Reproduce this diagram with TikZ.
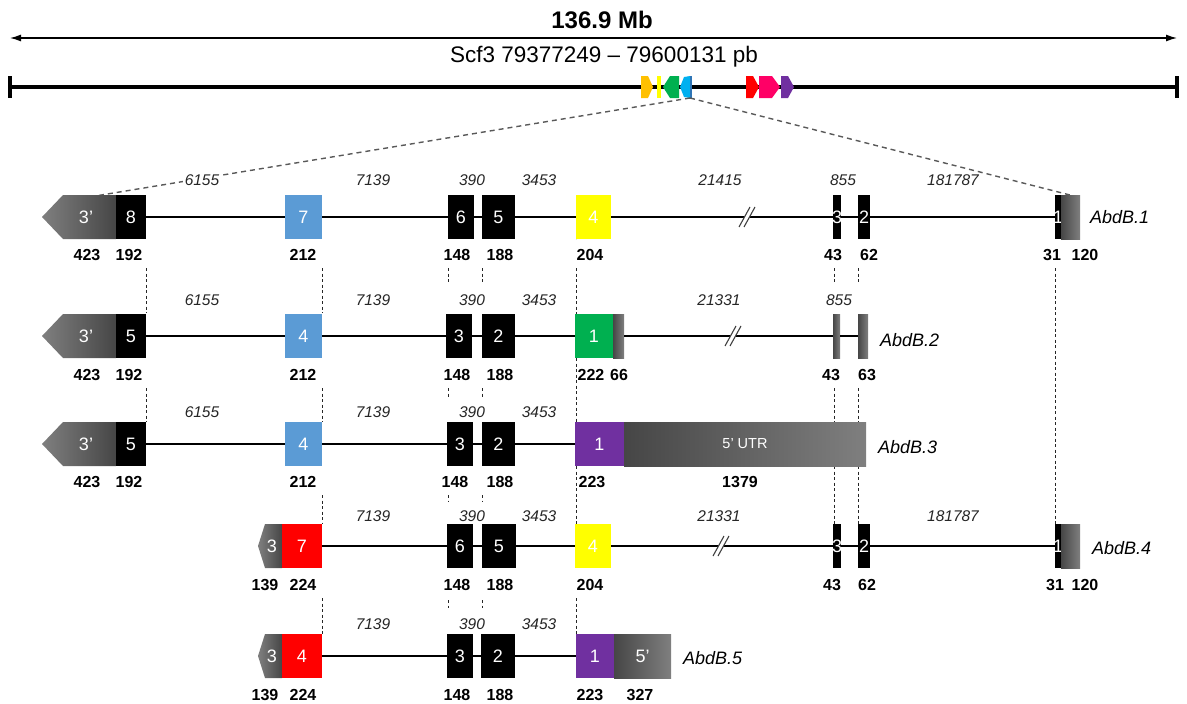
\documentclass[tikz,border=0pt]{standalone}
\usepackage{fontspec}
\setmainfont{Liberation Sans}
\usetikzlibrary{arrows.meta}
\definecolor{exblue}{HTML}{5B9BD5}
\definecolor{exyel}{HTML}{FFFF00}
\definecolor{exgreen}{HTML}{00B050}
\definecolor{expurple}{HTML}{7030A0}
\definecolor{exred}{HTML}{FF0000}
\definecolor{gorange}{HTML}{FFC000}
\definecolor{glblue}{HTML}{00B0F0}
\definecolor{gdblue}{HTML}{2E75B6}
\definecolor{gpink}{HTML}{FF0066}
\definecolor{gdark}{HTML}{464646}
\definecolor{glight}{HTML}{7F7F7F}
\newcounter{labc}
\newcommand\exon[6][]{\node[box,#1,minimum width={(#4-#3)*1pt}] (#2) at ({(#3+#4)/2},#5) {\makebox[0pt]{#6}};}
\newcommand\blab[3]{\stepcounter{labc}\node[blab] (bl\thelabc) at (#1,#2) {#3};}
\newcommand\ilab[3]{\stepcounter{labc}\node[ilab] (il\thelabc) at (#1,#2) {#3};}
\newcommand\brk[2]{\fill[white] (#1-8,#2+10) -- (#1-3,#2+10) -- (#1+8,#2-10) -- (#1+3,#2-10) -- cycle;
  \draw[brkline] (#1-8,#2+10) -- (#1+3,#2-10) (#1-3,#2+10) -- (#1+8,#2-10);}
\newcommand\bigarrow[3]{%
  \shade[left color=glight,right color=gdark] (42,#2) -- (63,#2-22) -- (116,#2-22) -- (116,#2+22) -- (63,#2+22) -- cycle;
  \node[boxtxt] (#1) at (86,#2) {#3};}
\newcommand\smallarrow[3]{%
  \shade[left color=glight,right color=gdark] (258,#2) -- (265,#2-22) -- (282,#2-22) -- (282,#2+22) -- (265,#2+22) -- cycle;
  \node[boxtxt] (#1) at (272,#2) {#3};}
\begin{document}
\begin{tikzpicture}[x=1pt,y=-1pt,
  boxtxt/.style={inner sep=0pt,text=white,font=\fontsize{18}{18}\selectfont},
  box/.style={draw=none,minimum height=44pt,inner sep=0pt,text=white,font=\fontsize{18}{18}\selectfont},
  blk/.style={fill=black},
  lblue/.style={fill=exblue},
  yel/.style={fill=exyel},
  grn/.style={fill=exgreen},
  pur/.style={fill=expurple},
  red/.style={fill=exred},
  utr/.style={left color=gdark,right color=glight},
  blab/.style={inner sep=0pt,font=\fontsize{16}{16}\selectfont\bfseries},
  ilab/.style={inner sep=1.5pt,fill=white,text=black!85,font=\fontsize{15.5}{15.5}\selectfont\itshape},
  gname/.style={inner sep=0pt,anchor=west,font=\fontsize{18}{18}\selectfont\itshape},
  intron/.style={line width=2.3pt,black},
  vdash/.style={black!85,line width=0.8pt,dash pattern=on 3pt off 2.5pt},
  zdash/.style={black!65,line width=1.4pt,dash pattern=on 5pt off 4pt},
  brkline/.style={black!75,line width=1.1pt}
]
\useasboundingbox (0,0) rectangle (1187,704);
% ---------- top scale ----------
\node[font=\fontsize{24}{24}\selectfont\bfseries] (mb) at (602,20) {136.9 Mb};
\coordinate (sl) at (10,38);
\coordinate (sr) at (1177,38);
\draw[line width=1.3pt,{Latex[length=11pt,width=7pt]}-{Latex[length=11pt,width=7pt]}] (sl) -- (sr);
\node[font=\fontsize{22.5}{22.5}\selectfont] (scf) at (604,57) {Scf3 79377249 – 79600131 pb};
% chromosome
\coordinate (cl) at (10,87);
\coordinate (cr) at (1177,87);
\draw[line width=4pt] (cl) -- (cr);
\draw[line width=4pt] (10,76) -- (10,98) (1177,76) -- (1177,98);
\fill[gorange] (641,76) -- (648,76) -- (653,87) -- (648,98) -- (641,98) -- cycle;
\fill[exyel] (657,76) rectangle (661,98);
\fill[exgreen] (663,87) -- (670,76) -- (679,76) -- (679,98) -- (670,98) -- cycle;
\fill[glblue] (680,87) -- (684,77) -- (690,76) -- (690,98) -- (684,97) -- cycle;
\fill[gdblue] (690,76) rectangle (692,98);
\fill[exred] (746,76) -- (753,76) -- (759,87) -- (753,98) -- (746,98) -- cycle;
\fill[gpink] (759,76) -- (772,76) -- (780,87) -- (772,98) -- (759,98) -- cycle;
\fill[expurple] (781,76) -- (788,76) -- (794,87) -- (788,98) -- (781,98) -- cycle;
% zoom lines
\coordinate (zc) at (690,98);
\draw[zdash] (zc) -- (77,199);
\draw[zdash] (zc) -- (1070,195);
% ---------- vertical dashed guides ----------
\draw[vdash] (576,195) -- (576,239);
\draw[vdash] (146,268) -- (146,313) (322,268) -- (322,313) (448,268) -- (448,283) (482,268) -- (482,283)
  (576,268) -- (576,314) (834,268) -- (834,283) (858,268) -- (858,283) (1055,268) -- (1055,524);
\draw[vdash] (146,388) -- (146,422) (322,388) -- (322,422) (448,388) -- (448,398) (482,388) -- (482,398)
  (576,358) -- (576,422) (834,388) -- (834,422) (858,388) -- (858,422);
\draw[vdash] (322,495) -- (322,524) (448,495) -- (448,502) (482,495) -- (482,502)
  (576,466) -- (576,524) (834,466) -- (834,524) (858,466) -- (858,524);
\draw[vdash] (322,598) -- (322,634) (448,600) -- (448,608) (482,600) -- (482,608) (576,598) -- (576,634);
% ---------- row 1 : AbdB.1 ----------
\bigarrow{r1a}{217}{3’}
\exon[blk]{r1e8}{116}{146}{217}{8}
\exon[lblue]{r1e7}{285}{322}{217}{7}
\exon[blk]{r1e6}{448}{474}{217}{6}
\exon[blk]{r1e5}{482}{515}{217}{5}
\exon[yel]{r1e4}{576}{611}{217}{4}
\exon[blk]{r1e3}{833}{841}{217}{3}
\exon[blk]{r1e2}{858}{870}{217}{2}
\exon[blk]{r1e1}{1055}{1061}{217}{1}
\exon[utr]{r1u}{1061}{1080}{217}{}
\draw[intron] (r1e8) -- (r1e7) (r1e7) -- (r1e6) (r1e6) -- (r1e5) (r1e5) -- (r1e4) (r1e4) -- (r1e3) (r1e3) -- (r1e2) (r1e2) -- (r1e1);
\brk{747}{217}
\node[gname] (g1) at (1090,217) {AbdB.1};
\ilab{202}{180}{6155}\ilab{373}{180}{7139}\ilab{472}{180}{390}\ilab{539}{180}{3453}
\ilab{720}{180}{21415}\ilab{843}{180}{855}\ilab{953}{180}{181787}
\blab{87}{255}{423}\blab{129}{255}{192}\blab{303}{255}{212}\blab{457}{255}{148}\blab{500}{255}{188}
\blab{590}{255}{204}\blab{833}{255}{43}\blab{869}{255}{62}\blab{1052}{255}{31}\blab{1085}{255}{120}
% ---------- row 2 : AbdB.2 ----------
\bigarrow{r2a}{336}{3’}
\exon[blk]{r2e5}{116}{146}{336}{5}
\exon[lblue]{r2e4}{285}{322}{336}{4}
\exon[blk]{r2e3}{446}{472}{336}{3}
\exon[blk]{r2e2}{482}{515}{336}{2}
\exon[grn]{r2e1}{575}{613}{336}{1}
\exon[utr]{r2u}{613}{624}{336}{}
\exon[utr]{r2x1}{833}{840}{336}{}
\exon[utr]{r2x2}{858}{868}{336}{}
\draw[intron] (r2e5) -- (r2e4) (r2e4) -- (r2e3) (r2e3) -- (r2e2) (r2e2) -- (r2e1) (r2u) -- (r2x1) (r2x1) -- (r2x2);
\brk{733}{336}
\node[gname] (g2) at (880,340) {AbdB.2};
\ilab{202}{300}{6155}\ilab{373}{300}{7139}\ilab{472}{300}{390}\ilab{539}{300}{3453}
\ilab{719}{300}{21331}\ilab{839}{300}{855}
\blab{87}{375}{423}\blab{129}{375}{192}\blab{303}{375}{212}\blab{457}{375}{148}\blab{500}{375}{188}
\blab{591}{375}{222}\blab{619}{375}{66}\blab{831}{375}{43}\blab{867}{375}{63}
% ---------- row 3 : AbdB.3 ----------
\bigarrow{r3a}{444}{3’}
\exon[blk]{r3e5}{116}{146}{444}{5}
\exon[lblue]{r3e4}{285}{322}{444}{4}
\exon[blk]{r3e3}{447}{473}{444}{3}
\exon[blk]{r3e2}{482}{515}{444}{2}
\exon[pur]{r3e1}{575}{624}{444}{1}
\node[box,utr,minimum width=242pt,font=\fontsize{14.5}{14.5}\selectfont] (r3u) at (745,444) {5’ UTR};
\draw[intron] (r3e5) -- (r3e4) (r3e4) -- (r3e3) (r3e3) -- (r3e2) (r3e2) -- (r3e1);
\node[gname] (g3) at (878,447) {AbdB.3};
\ilab{202}{412}{6155}\ilab{373}{412}{7139}\ilab{472}{412}{390}\ilab{539}{412}{3453}
\blab{87}{482}{423}\blab{129}{482}{192}\blab{303}{482}{212}\blab{455}{482}{148}\blab{500}{482}{188}
\blab{592}{482}{223}\blab{740}{482}{1379}
% ---------- row 4 : AbdB.4 ----------
\smallarrow{r4a}{546}{3}
\exon[red]{r4e7}{282}{322}{546}{7}
\exon[blk]{r4e6}{447}{473}{546}{6}
\exon[blk]{r4e5}{482}{516}{546}{5}
\exon[yel]{r4e4}{575}{611}{546}{4}
\exon[blk]{r4e3}{833}{841}{546}{3}
\exon[blk]{r4e2}{858}{870}{546}{2}
\exon[blk]{r4e1}{1055}{1061}{546}{1}
\exon[utr]{r4u}{1061}{1080}{546}{}
\draw[intron] (r4e7) -- (r4e6) (r4e6) -- (r4e5) (r4e5) -- (r4e4) (r4e4) -- (r4e3) (r4e3) -- (r4e2) (r4e2) -- (r4e1);
\brk{721}{546}
\node[gname] (g4) at (1092,548) {AbdB.4};
\ilab{373}{516}{7139}\ilab{472}{516}{390}\ilab{539}{516}{3453}\ilab{719}{516}{21331}\ilab{953}{516}{181787}
\blab{265}{585}{139}\blab{303}{585}{224}\blab{457}{585}{148}\blab{500}{585}{188}\blab{590}{585}{204}
\blab{832}{585}{43}\blab{867}{585}{62}\blab{1055}{585}{31}\blab{1085}{585}{120}
% ---------- row 5 : AbdB.5 ----------
\smallarrow{r5a}{656}{3}
\exon[red]{r5e4}{282}{322}{656}{4}
\exon[blk]{r5e3}{447}{473}{656}{3}
\exon[blk]{r5e2}{481}{515}{656}{2}
\exon[pur]{r5e1}{576}{614}{656}{1}
\exon[utr]{r5u}{614}{671}{656}{5’}
\draw[intron] (r5e4) -- (r5e3) (r5e3) -- (r5e2) (r5e2) -- (r5e1);
\node[gname] (g5) at (683,658) {AbdB.5};
\ilab{373}{624}{7139}\ilab{472}{624}{390}\ilab{539}{624}{3453}
\blab{265}{695}{139}\blab{303}{695}{224}\blab{457}{695}{148}\blab{500}{695}{188}\blab{590}{695}{223}\blab{640}{695}{327}
\end{tikzpicture}
\end{document}
